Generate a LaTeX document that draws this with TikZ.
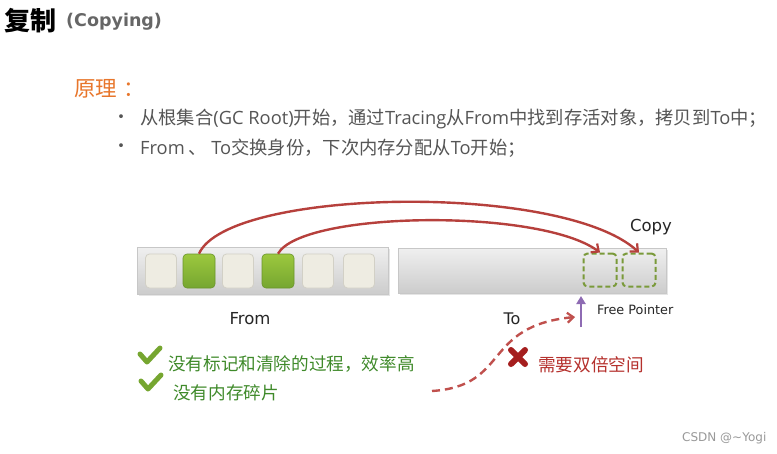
\documentclass[tikz,border=0pt]{standalone}
\usepackage{fontspec}
\setmainfont{Noto Sans CJK SC}
\newfontfamily\lat{Open Sans}
\newfontfamily\vlat{DejaVu Sans}
\usetikzlibrary{arrows.meta}
\definecolor{txtgray}{HTML}{555555}
\definecolor{orng}{HTML}{E8762B}
\definecolor{arcred}{HTML}{B6403C}
\definecolor{dashred}{HTML}{C0504D}
\definecolor{grntxt}{HTML}{3F8A2A}
\definecolor{cellbg}{HTML}{EEECE2}
\definecolor{cellbd}{HTML}{D2D0C6}
\definecolor{grntop}{HTML}{9CC83E}
\definecolor{grnbot}{HTML}{76A630}
\definecolor{xred}{HTML}{A51E1E}
\definecolor{xtxt}{HTML}{B5302C}
\definecolor{purp}{HTML}{8E6BB3}
\definecolor{dgreen}{HTML}{7A9A3A}
\tikzset{
  bar/.style={draw=black!22, top color=black!6, bottom color=black!20, line width=0.6pt},
  cellbox/.style={draw=cellbd, fill=cellbg, rounded corners=4pt, line width=0.8pt, minimum width=31pt, minimum height=34pt, inner sep=0pt},
  livebox/.style={draw=grnbot!90!black, top color=grntop, bottom color=grnbot, rounded corners=4pt, line width=0.6pt, minimum width=32pt, minimum height=34pt, inner sep=0pt},
  freebox/.style={draw=dgreen, dashed, dash pattern=on 5pt off 3pt, line width=2pt, rounded corners=4pt, minimum width=33pt, minimum height=33pt, inner sep=0pt},
  arc/.style={draw=arcred, line width=2.4pt, -{Straight Barb[length=6pt,width=11pt,line width=2.2pt]}},
  bullettxt/.style={anchor=west, text=txtgray, font=\fontsize{18.3}{21}\selectfont, inner sep=0pt},
  lbl/.style={anchor=center, text=black!85, inner sep=0pt},
  check/.style={draw=grnbot, line width=5pt, line join=round, line cap=round},
}
\begin{document}
\begin{tikzpicture}[x=1pt,y=-1pt]
\useasboundingbox (0,0) rectangle (777,453);
\fill[white] (0,0) rectangle (777,453);
% title
\node[anchor=west, inner sep=0pt, font=\fontsize{26}{29}\selectfont\bfseries] (title) at (4,21) {复制};
\node[anchor=west, inner sep=0pt, text=black!60, font=\vlat\fontsize{17.5}{20}\selectfont\bfseries] (sub) at (66,22) {(Copying)};
% principle
\node[anchor=west, inner sep=0pt, text=orng, font=\fontsize{21.5}{24}\selectfont] (yl) at (74,89) {原理\hspace{6pt}：};
\node[anchor=center, inner sep=0pt, text=txtgray, font=\fontsize{18}{16}\selectfont] (b1) at (121,119) {•};
\node[anchor=center, inner sep=0pt, text=txtgray, font=\fontsize{18}{16}\selectfont] (b2) at (121,148) {•};
\node[bullettxt] (t1) at (140,119) {从根集合{\lat(GC Root)}开始，通过{\lat Tracing}从{\lat From}中找到存活对象，拷贝到{\lat To}中；};
\node[bullettxt] (t2) at (140,148) {{\lat From} 、 {\lat To}交换身份，下次内存分配从{\lat To}开始；};
% from bar
\fill[black!10] (139,249) rectangle (390,296);
\draw[bar] (137,247) rectangle (388,294);
\node[cellbox] (c1) at (161,271) {};
\node[livebox] (c2) at (199,271) {};
\node[cellbox] (c3) at (238,271) {};
\node[livebox] (c4) at (278,271) {};
\node[cellbox] (c5) at (318,271) {};
\node[cellbox] (c6) at (359,271) {};
% to bar
\fill[black!10] (400,250) rectangle (668,295);
\draw[bar] (398,248) rectangle (666,293);
\node[freebox] (d1) at (600,270) {};
\node[freebox] (d2) at (639,270) {};
% arcs
\draw[arc] (c2.north) .. controls (228,188) and (562,182) .. (d2.north);
\draw[arc] (c4.north) .. controls (302,211) and (540,208) .. (d1.north);
% labels
\node[lbl, font=\vlat\fontsize{16.5}{19}\selectfont] (copy) at (651,227) {Copy};
\node[lbl, font=\vlat\fontsize{16.5}{19}\selectfont] (from) at (250,319) {From};
\node[lbl, font=\vlat\fontsize{16}{19}\selectfont] (to) at (512,319) {To};
\node[anchor=west, inner sep=0pt, text=black!85, font=\vlat\fontsize{12.8}{14}\selectfont] (fp) at (597,310) {Free Pointer};
% free pointer arrow
\coordinate (fpb) at (581,327);
\coordinate (fpt) at (581,296);
\draw[draw=purp, line width=2.4pt, -{Triangle[length=8pt,width=9pt]}] (fpb) -- (fpt);
% dashed curve
\coordinate (ds) at (432,391);
\coordinate (de) at (575,317);
\draw[dashred, line width=2.4pt, dash pattern=on 8pt off 5pt, -{Straight Barb[length=6pt,width=10pt,line width=2.2pt]}] (ds) .. controls (510,386) and (482,326) .. (de);
% checks
\draw[check] (140,354) -- (147,362) -- (160,348);
\draw[check] (141,381) -- (148,389) -- (161,375);
\node[anchor=west, inner sep=0pt, text=grntxt, font=\fontsize{17.6}{20}\selectfont] (g1) at (168,364) {没有标记和清除的过程，效率高};
\node[anchor=west, inner sep=0pt, text=grntxt, font=\fontsize{17.6}{20}\selectfont] (g2) at (173,393) {没有内存碎片};
% red x
\draw[draw=xred, line width=6pt, line cap=round] (511,350) -- (525,364);
\draw[draw=xred, line width=6pt, line cap=round] (525,350) -- (511,364);
\node[anchor=west, inner sep=0pt, text=xtxt, font=\fontsize{17.6}{20}\selectfont] (r1) at (538,365) {需要双倍空间};
% watermark
\node[anchor=west, inner sep=0pt, text=black!40, font=\vlat\fontsize{12}{14}\selectfont] (wm) at (682,438) {CSDN @\textasciitilde Yogi};
\end{tikzpicture}
\end{document}
